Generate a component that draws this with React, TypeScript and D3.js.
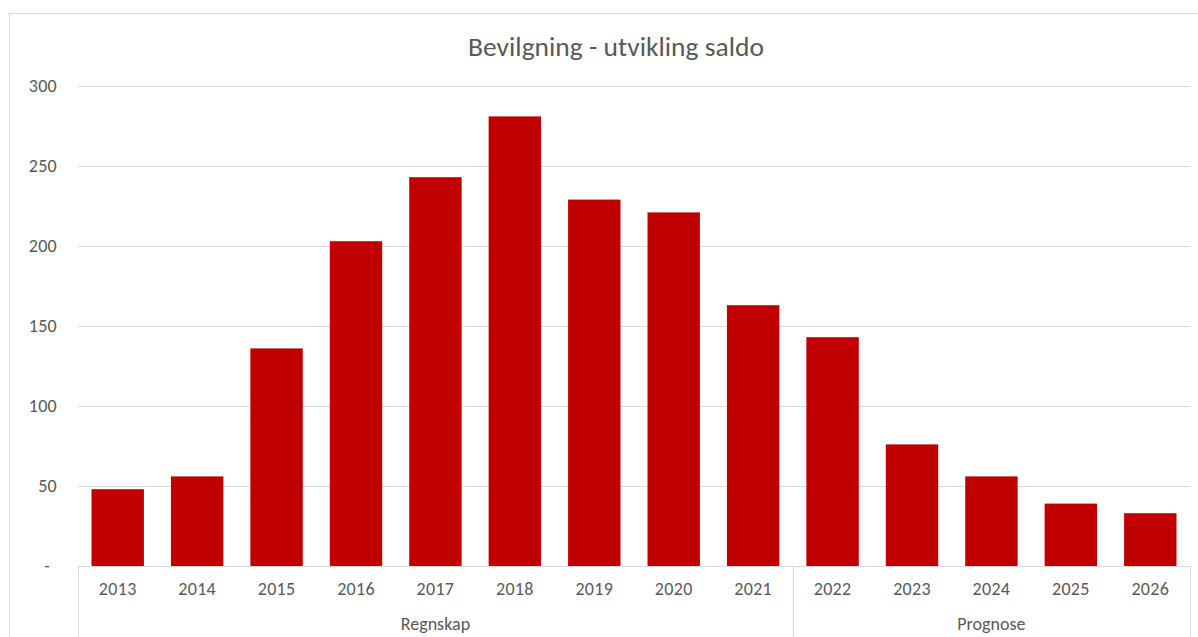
import React from "react";
import * as d3 from "d3";

const years = ["2013","2014","2015","2016","2017","2018","2019","2020","2021","2022","2023","2024","2025","2026"];
const values = [48, 56, 136, 203, 243, 281, 229, 221, 163, 143, 76, 56, 39, 33];
const groups = [
  { label: "Regnskap", from: "2013", to: "2021" },
  { label: "Prognose", from: "2022", to: "2026" },
];
const yTicks = [0, 50, 100, 150, 200, 250, 300];
const title = "Bevilgning - utvikling saldo";

const W = 1198, H = 637;
const left = 78, right = 1190, top = 86, bottom = 566;
const FONT = "Carlito, Calibri, 'Open Sans', sans-serif";
const GRAY = "#595959";

export default function App() {
  const x = d3.scaleBand<string>().domain(years).range([left, right]).paddingInner(0.34).paddingOuter(0.17);
  const y = d3.scaleLinear().domain([0, 300]).range([bottom, top]);
  const step = x.step();
  const groupEdge = (yr: string, end: boolean) => {
    const i = years.indexOf(yr);
    return left + i * step + (end ? step : 0);
  };
  return (
    <svg width={W} height={H} style={{ position: "absolute", left: 0, top: 0 }} fontFamily={FONT}>
      <rect x={0} y={0} width={W} height={H} fill="#fff" />
      <rect x={9.5} y={13.5} width={W + 10} height={H + 10} fill="none" stroke="#d9d9d9" />
      <text x={616} y={56} textAnchor="middle" fontSize={27.5} fill={GRAY}>{title}</text>
      {yTicks.map((t) => (
        <g key={t}>
          {t > 0 && <line x1={left} x2={right} y1={Math.round(y(t)) + 0.5} y2={Math.round(y(t)) + 0.5} stroke="#d9d9d9" strokeWidth={1} />}
          <text x={t === 0 ? 50 : 57} y={y(t) + 6} textAnchor="end" fontSize={18} letterSpacing={0.3} fill={GRAY}>{t === 0 ? "-" : t}</text>
        </g>
      ))}
      {years.map((yr, i) => (
        <rect key={yr} x={x(yr)} y={y(values[i])} width={x.bandwidth()} height={bottom - y(values[i])} fill="#C00000" />
      ))}
      <line x1={left} x2={right} y1={bottom + 0.5} y2={bottom + 0.5} stroke="#d9d9d9" />
      {years.map((yr) => (
        <text key={yr} x={(x(yr) as number) + x.bandwidth() / 2} y={595} textAnchor="middle" fontSize={18} letterSpacing={0.3} fill={GRAY}>{yr}</text>
      ))}
      {groups.map((g, i) => {
        const a = groupEdge(g.from, false);
        const b = groupEdge(g.to, true);
        return (
          <g key={g.label}>
            {i === 0 && <line x1={a + 0.5} x2={a + 0.5} y1={bottom} y2={H} stroke="#d9d9d9" />}
            <line x1={b + 0.5} x2={b + 0.5} y1={bottom} y2={H} stroke="#d9d9d9" />
            <text x={(a + b) / 2} y={630} textAnchor="middle" fontSize={18} fill={GRAY}>{g.label}</text>
          </g>
        );
      })}
    </svg>
  );
}
